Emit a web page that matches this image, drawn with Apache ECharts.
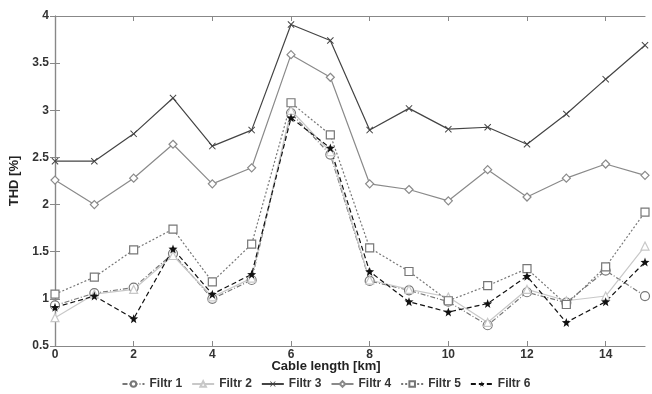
<!DOCTYPE html>
<html>
<head>
<meta charset="utf-8">
<script src="https://cdn.jsdelivr.net/npm/echarts@6/dist/echarts.min.js"></script>
<style>
  html, body { margin: 0; padding: 0; background: #fff; }
  #main { width: 652px; height: 394px; }
</style>
</head>
<body>
<div id="main"></div>
<script>
// cable length [km]
var lengths = [0, 1, 2, 3, 4, 5, 6, 7, 8, 9, 10, 11, 12, 13, 14, 15];

var filtr1 = [0.93, 1.06, 1.12, 1.48, 1.00, 1.20, 2.97, 2.53, 1.19, 1.09, 0.97, 0.72, 1.07, 0.96, 1.30, 1.03];
var filtr2 = [0.80, 1.05, 1.10, 1.46, 1.02, 1.22, 3.00, 2.56, 1.20, 1.10, 1.02, 0.75, 1.10, 0.98, 1.03, 1.56];
var filtr3 = [2.46, 2.46, 2.75, 3.13, 2.62, 2.79, 3.91, 3.74, 2.79, 3.02, 2.80, 2.82, 2.64, 2.96, 3.33, 3.69];
var filtr4 = [2.26, 2.00, 2.28, 2.64, 2.22, 2.39, 3.59, 3.35, 2.22, 2.16, 2.04, 2.37, 2.08, 2.28, 2.43, 2.31];
var filtr5 = [1.05, 1.23, 1.52, 1.74, 1.18, 1.58, 3.08, 2.74, 1.54, 1.29, 0.98, 1.14, 1.32, 0.94, 1.34, 1.92];
var filtr6 = [0.91, 1.03, 0.79, 1.53, 1.05, 1.26, 2.92, 2.60, 1.29, 0.97, 0.86, 0.95, 1.24, 0.75, 0.97, 1.39];

var xTicks = [0, 2, 4, 6, 8, 10, 12, 14];
var yTicks = [0.5, 1, 1.5, 2, 2.5, 3, 3.5, 4];

var crossPath = 'path://M1,0 L5,4 L9,0 L10,1 L6,5 L10,9 L9,10 L5,6 L1,10 L0,9 L4,5 L0,1 Z';
var starPath = 'path://M5,0 L6.2,3.4 L10,3.8 L7,6.2 L8,10 L5,7.8 L2,10 L3,6.2 L0,3.8 L3.8,3.4 Z';

function pairs(vals) {
    return lengths.map(function (x, i) { return [x, vals[i]]; });
}

function makeSeries(name, vals, color, lineType, symbol, size, filled) {
    return {
        name: name,
        type: 'line',
        data: pairs(vals),
        symbol: symbol,
        symbolSize: size,
        showAllSymbol: true,
        lineStyle: { color: color, width: 1.2, type: lineType },
        itemStyle: {
            color: filled ? color : '#fff',
            borderColor: color,
            borderWidth: filled ? 0 : 1.2
        },
        emphasis: { disabled: true }
    };
}

var labelFont = { fontFamily: 'Liberation Sans', fontWeight: 'bold', fontSize: 12, color: '#333' };

var myChart = echarts.init(document.getElementById('main'));
myChart.setOption({
    animation: false,
    title: {
        text: 'Cable length [km]',
        left: 'center',
        top: 360,
        padding: 0,
        textStyle: { fontFamily: 'Liberation Sans', fontWeight: 'bold', fontSize: 13, color: '#222' }
    },
    grid: { left: 49, right: 7, top: 16, bottom: 48, show: false },
    legend: {
        bottom: 4,
        left: 'center',
        itemWidth: 22,
        itemHeight: 7,
        itemGap: 9,
        padding: 0,
        textStyle: labelFont,
        data: ['Filtr 1', 'Filtr 2', 'Filtr 3', 'Filtr 4', 'Filtr 5', 'Filtr 6']
    },
    xAxis: [{
        type: 'value',
        min: 0, max: 15,
        axisLine: { lineStyle: { color: '#888', width: 1.2 } },
        axisTick: { inside: true, length: 5, customValues: xTicks, lineStyle: { color: '#888' } },
        axisLabel: Object.assign({ margin: 3, customValues: xTicks }, labelFont),
        splitLine: { show: false }
    }, {
        type: 'value', position: 'top',
        min: 0, max: 15,
        axisLine: { show: true, lineStyle: { color: '#888', width: 1.2 } },
        axisTick: { inside: true, length: 5, customValues: xTicks, lineStyle: { color: '#888' } },
        axisLabel: { show: false },
        splitLine: { show: false }
    }],
    yAxis: [{
        type: 'value',
        min: 0.5, max: 4, interval: 0.5,
        name: 'THD [%]',
        nameLocation: 'middle',
        nameGap: 34,
        nameRotate: 90,
        nameTextStyle: { fontFamily: 'Liberation Sans', fontWeight: 'bold', fontSize: 13, color: '#222' },
        axisLine: { show: true, lineStyle: { color: '#888', width: 1.2 } },
        axisTick: { show: true, inside: true, length: 5, lineStyle: { color: '#888' } },
        axisLabel: Object.assign({ margin: 6, customValues: yTicks }, labelFont),
        splitLine: { show: false }
    }, {
        type: 'value', position: 'right',
        min: 0.5, max: 4, interval: 0.5,
        axisLine: { show: true, lineStyle: { color: '#888', width: 1.2 } },
        axisTick: { show: true, inside: true, length: 5, lineStyle: { color: '#888' } },
        axisLabel: { show: false },
        splitLine: { show: false }
    }],
    series: [
        makeSeries('Filtr 1', filtr1, '#777', [5, 2, 1, 2], 'circle', 9, false),
        makeSeries('Filtr 2', filtr2, '#c8c8c8', 'solid', 'triangle', 8, false),
        makeSeries('Filtr 3', filtr3, '#444', 'solid', crossPath, 7, true),
        makeSeries('Filtr 4', filtr4, '#8a8a8a', 'solid', 'diamond', 8, false),
        makeSeries('Filtr 5', filtr5, '#777', [2, 2], 'rect', 8, false),
        makeSeries('Filtr 6', filtr6, '#111', [5, 3], starPath, 9, true)
    ]
});
</script>
</body>
</html>
